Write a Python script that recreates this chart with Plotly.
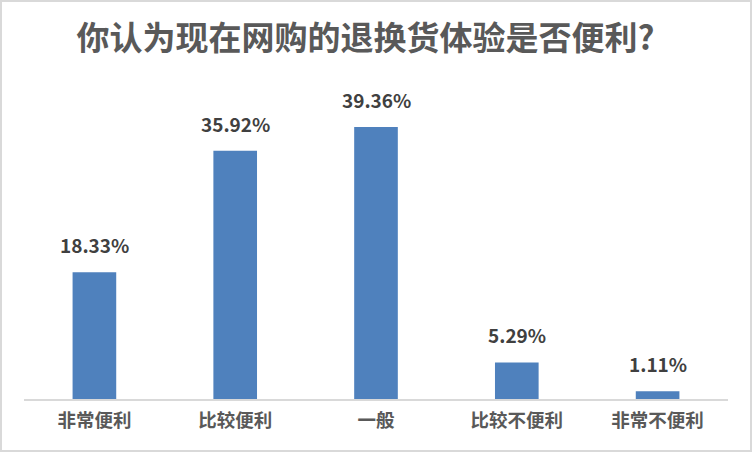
import plotly.graph_objects as go

categories = ["非常便利", "比较便利", "一般", "比较不便利", "非常不便利"]
values = [18.33, 35.92, 39.36, 5.29, 1.11]
title_text = "你认为现在网购的退换货体验是否便利?"

FONT = "Noto Sans CJK SC, Noto Sans, sans-serif"

fig = go.Figure()
fig.add_trace(go.Bar(
    x=categories, y=values,
    marker=dict(color="#4F81BD", line=dict(width=0)),
    hoverinfo="skip",
))

annotations = []
for c, v in zip(categories, values):
    annotations.append(dict(
        x=c, y=v, xref="x", yref="y", text=f"{v:.2f}%", showarrow=False,
        yanchor="bottom", yshift=12,
        font=dict(family=FONT, size=19, color="#404040", weight="bold"),
    ))

W, H = 752, 452
ml, mr, mt, mb = 24, 24, 88, 53
pw, ph = W - ml - mr, H - mt - mb

fig.update_layout(
    width=W, height=H,
    margin=dict(l=ml, r=mr, t=mt, b=mb),
    paper_bgcolor="white", plot_bgcolor="white",
    bargap=0.69,
    showlegend=False,
    title=dict(text=title_text, x=(365.5 - ml) / pw, xanchor="center", xref="paper",
               y=1 - 38 / H, yref="container", yanchor="middle",
               font=dict(family=FONT, size=33, color="#595959", weight="bold")),
    xaxis=dict(showline=True, linecolor="#D9D9D9", linewidth=2, ticks="",
               showgrid=False, zeroline=False, ticklabelstandoff=4,
               tickfont=dict(family=FONT, size=18.5, color="#595959", weight="bold")),
    yaxis=dict(range=[0, 45], visible=False, showgrid=False, zeroline=False),
    annotations=annotations,
    shapes=[dict(type="rect", xref="paper", yref="paper",
                 x0=(1 - ml) / pw, x1=(W - 1 - ml) / pw,
                 y0=(1 - mb) / ph, y1=(H - 1 - mb) / ph,
                 line=dict(color="#D9D9D9", width=2), layer="below")],
)

fig.write_html("out.html", config={"displayModeBar": False},
               post_script="document.body.style.margin='0';document.body.style.overflow='hidden';")
